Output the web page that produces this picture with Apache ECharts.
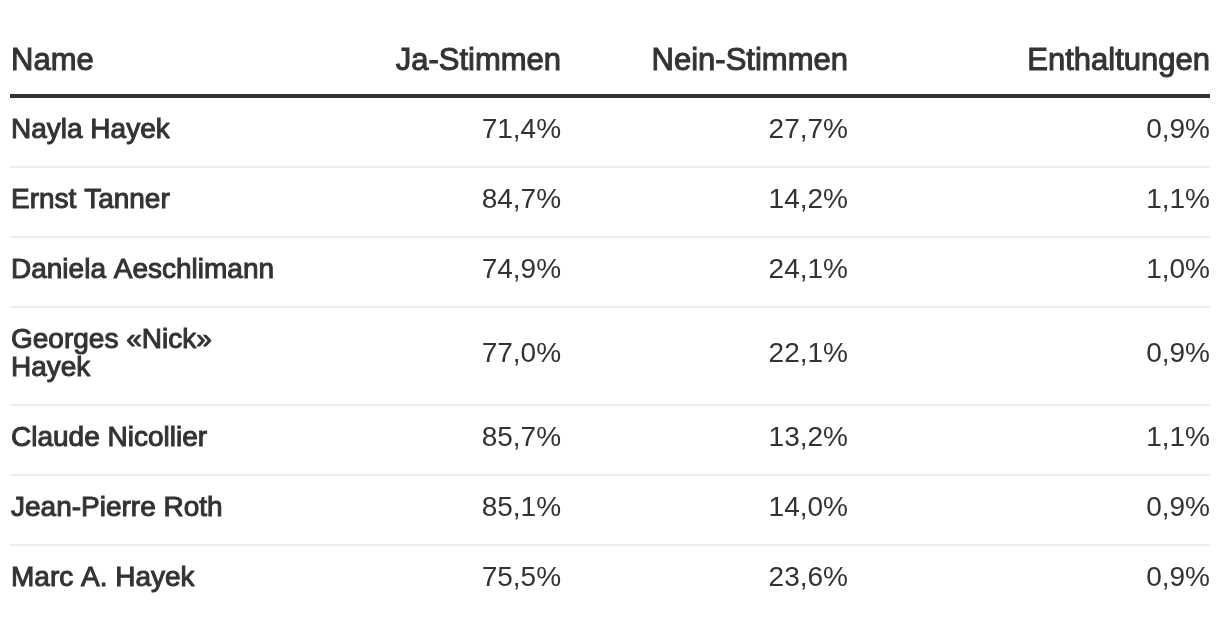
<!DOCTYPE html>
<html>
<head>
<meta charset="utf-8">
<script src="https://cdn.jsdelivr.net/npm/echarts@6/dist/echarts.min.js"></script>
<style>
html,body{margin:0;padding:0;background:#fff;}
#chart{width:1220px;height:624px;}
</style>
</head>
<body>
<div id="chart"></div>
<script>
// ---- Data ----
const columnHeaders = ["Name", "Ja-Stimmen", "Nein-Stimmen", "Enthaltungen"];
const names = ["Nayla Hayek", "Ernst Tanner", "Daniela Aeschlimann", "Georges «Nick»\nHayek", "Claude Nicollier", "Jean-Pierre Roth", "Marc A. Hayek"];
const jaStimmen = [71.4, 84.7, 74.9, 77.0, 85.7, 85.1, 75.5];
const neinStimmen = [27.7, 14.2, 24.1, 22.1, 13.2, 14.0, 23.6];
const enthaltungen = [0.9, 1.1, 1.0, 0.9, 1.1, 0.9, 0.9];

// ---- Layout (styles) ----
const ROW_PX = 70, EXTRA_LINE_UNITS = 0.4, LINE_H = 28;
const TEXT = '#333';
const FONT = '"Liberation Sans", Arial, Helvetica, sans-serif';
const colRight = [null, 45.92, 69.83, 100]; // x-axis units (percent of table width)

function fmt(v) { return v.toFixed(1).replace('.', ',') + '%'; }

// row extents in y-axis units, computed from number of lines in each name
const rows = [];
let acc = 0;
names.forEach((n, i) => {
  const lines = n.split('\n').length;
  const h = 1 + EXTRA_LINE_UNITS * (lines - 1);
  rows.push([acc, acc + h, jaStimmen[i], neinStimmen[i], enthaltungen[i], i]);
  acc += h;
});
const totalUnits = acc;
const GRID_TOP = 97;
const gridBottom = 624 - (GRID_TOP + totalUnits * ROW_PX);

const chart = echarts.init(document.getElementById('chart'), null, {renderer: 'canvas'});

function txt(x, y, s, align, bold, size) {
  return {
    type: 'text', x: x, y: y,
    style: {
      text: s, fill: TEXT, fontSize: size, fontFamily: FONT,
      align: align, verticalAlign: 'middle', lineHeight: LINE_H,
      stroke: bold ? TEXT : null, lineWidth: bold ? 1.0 : 0
    },
    silent: true
  };
}

chart.setOption({
  animation: false,
  grid: {left: 10, right: 10, top: GRID_TOP, bottom: gridBottom},
  xAxis: {
    type: 'value', min: 0, max: 100, position: 'top',
    axisLine: {show: false},
    axisTick: {show: false}, axisLabel: {show: false}, splitLine: {show: false}
  },
  yAxis: {type: 'value', min: 0, max: totalUnits, inverse: true, show: false},
  series: [{
    type: 'custom',
    clip: false,
    data: rows,
    renderItem: function (params, api) {
      const start = api.value(0), end = api.value(1), idx = api.value(5);
      const left = api.coord([0, start])[0];
      const yMid = (api.coord([0, start])[1] + api.coord([0, end])[1]) / 2 - 2;
      const children = [];
      children.push(txt(left + 1, yMid, names[idx], 'left', true, 28));
      children.push(txt(api.coord([colRight[1], start])[0], yMid, fmt(api.value(2)), 'right', false, 28));
      children.push(txt(api.coord([colRight[2], start])[0], yMid, fmt(api.value(3)), 'right', false, 28));
      children.push(txt(api.coord([colRight[3], start])[0], yMid, fmt(api.value(4)), 'right', false, 28));
      if (idx < names.length - 1) {
        const p1 = api.coord([0, end]), p2 = api.coord([100, end]);
        children.push({type: 'line', shape: {x1: p1[0], y1: p1[1], x2: p2[0], y2: p2[1]},
          style: {stroke: '#eeeeee', lineWidth: 2, lineCap: 'butt'}, silent: true});
      }
      if (idx === 0) {
        const top = api.coord([0, 0])[1];
        const right = api.coord([100, 0])[0];
        children.push({type: 'line', shape: {x1: left, y1: top - 1, x2: right, y2: top - 1},
          style: {stroke: TEXT, lineWidth: 4, lineCap: 'butt'}, silent: true});
        const hy = top - 36;
        children.push(txt(left + 1, hy, columnHeaders[0], 'left', true, 31));
        for (let c = 1; c < 4; c++) {
          children.push(txt(api.coord([colRight[c], 0])[0], hy, columnHeaders[c], 'right', true, 31));
        }
      }
      return {type: 'group', children: children};
    }
  }]
});
</script>
</body>
</html>
